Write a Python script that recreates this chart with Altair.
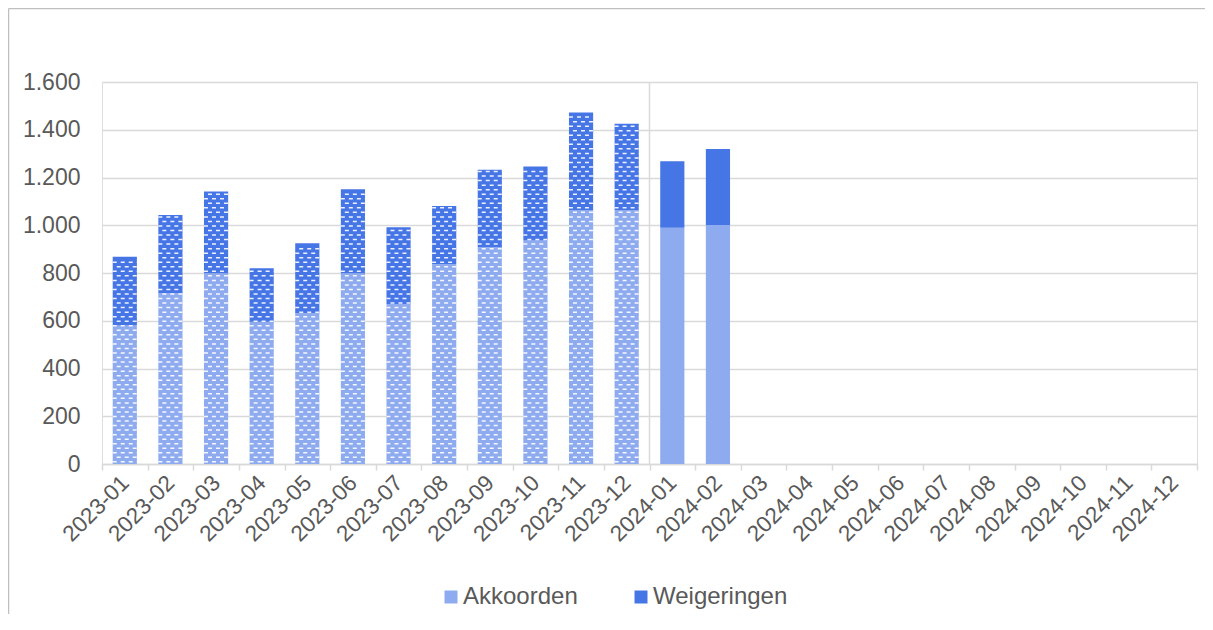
import altair as alt
import pandas as pd

# ---- data ----
months = [
    "2023-01", "2023-02", "2023-03", "2023-04", "2023-05", "2023-06",
    "2023-07", "2023-08", "2023-09", "2023-10", "2023-11", "2023-12",
    "2024-01", "2024-02", "2024-03", "2024-04", "2024-05", "2024-06",
    "2024-07", "2024-08", "2024-09", "2024-10", "2024-11", "2024-12",
]
data_months = months[:14]
akkoorden = [580, 715, 799, 596, 631, 799, 669, 837, 908, 936, 1064, 1064, 990, 1001]
weigeringen = [288, 328, 342, 224, 294, 352, 323, 244, 324, 310, 408, 361, 278, 318]
hatched_months = months[:12]          # 2023 bars are drawn with a dashed texture
series = ["Akkoorden", "Weigeringen"]
colors = ["#8FABEF", "#4675E6"]
y_ticks = [0, 200, 400, 600, 800, 1000, 1200, 1400, 1600]
separator_month = "2024-01"

# ---- tables built from the arrays ----
rows = []
for m, a, w in zip(data_months, akkoorden, weigeringen):
    rows.append({"maand": m, "reeks": "Akkoorden", "waarde": a, "volgorde": 0})
    rows.append({"maand": m, "reeks": "Weigeringen", "waarde": w, "volgorde": 1})
df = pd.DataFrame(rows)

HATCH_START = 9
HATCH_STEP = 19
hatch_rows = []
for m, a, w in zip(data_months, akkoorden, weigeringen):
    if m not in hatched_months:
        continue
    total = a + w
    y, k = HATCH_START, 0
    while y < total - 5:
        hatch_rows.append({"maand": m, "y": y, "rij": k % 2})
        y += HATCH_STEP
        k += 1
hatch = pd.DataFrame(hatch_rows)

FONT = "Liberation Sans"
TXT = "#595959"
GRID = "#d9d9d9"

xscale = alt.Scale(domain=months, paddingInner=0, paddingOuter=0)
yscale = alt.Scale(domain=[0, 1600], nice=False)

bars = alt.Chart(df).mark_bar(width=alt.RelativeBandSize(0.53)).encode(
    x=alt.X(
        "maand:N", scale=xscale, sort=months, title=None,
        axis=alt.Axis(
            labelAngle=-45, labelAlign="right", labelBaseline="middle",
            labelFontSize=22.5, labelColor=TXT, labelFont=FONT, labelPadding=9,
            domain=True, domainColor=GRID, domainWidth=1.5,
            ticks=True, tickBand="extent", tickColor=GRID, tickSize=6, tickWidth=1.5,
            grid=False,
        ),
    ),
    y=alt.Y(
        "waarde:Q", stack="zero", scale=yscale, title=None,
        axis=alt.Axis(
            values=y_ticks, domain=False, ticks=False, grid=True,
            gridColor=GRID, gridWidth=1.3,
            labelFontSize=23, labelColor=TXT, labelFont=FONT, labelPadding=22,
            labelExpr="replace(format(datum.value, ','), ',', '.')",
        ),
    ),
    color=alt.Color(
        "reeks:N", scale=alt.Scale(domain=series, range=colors), title=None,
        legend=alt.Legend(
            orient="none", direction="horizontal", legendX=337, legendY=503,
            symbolType="square", symbolSize=169, symbolStrokeWidth=0,
            labelFontSize=24, labelColor=TXT, labelFont=FONT,
            columnPadding=51, symbolOffset=0, labelOffset=0,
        ),
    ),
    order=alt.Order("volgorde:Q"),
)

hatch_even = alt.Chart(hatch).transform_filter("datum.rij == 0").mark_rule(
    color="white", strokeWidth=1.5, strokeDash=[4, 4], strokeDashOffset=0, opacity=0.9
).encode(
    x=alt.X("maand:N", scale=xscale, bandPosition=0.235),
    x2=alt.X2("maand", bandPosition=0.765),
    y=alt.Y("y:Q", scale=yscale),
)
hatch_odd = alt.Chart(hatch).transform_filter("datum.rij == 1").mark_rule(
    color="white", strokeWidth=1.5, strokeDash=[4, 4], strokeDashOffset=4, opacity=0.9
).encode(
    x=alt.X("maand:N", scale=xscale, bandPosition=0.235),
    x2=alt.X2("maand", bandPosition=0.765),
    y=alt.Y("y:Q", scale=yscale),
)

separator = alt.Chart(pd.DataFrame({"maand": [separator_month]})).mark_rule(
    color=GRID, strokeWidth=1.5
).encode(
    x=alt.X("maand:N", scale=xscale, bandPosition=0),
    y=alt.value(0),
    y2=alt.value(382),
)

frame_left = alt.Chart(pd.DataFrame({"a": [0]})).mark_rule(
    color="#bfbfbf", strokeWidth=1.5
).encode(x=alt.value(-93.5), y=alt.value(-73.5), y2=alt.value(540))
frame_top = alt.Chart(pd.DataFrame({"a": [0]})).mark_rule(
    color="#bfbfbf", strokeWidth=1.5
).encode(x=alt.value(-93.5), x2=alt.value(1110), y=alt.value(-73.5))

chart = alt.layer(
    separator, bars, hatch_even, hatch_odd, frame_left, frame_top
).properties(
    width=1095, height=382,
    autosize=alt.AutoSizeParams(type="none"),
    padding={"left": 94, "top": 74, "right": 8, "bottom": 150},
).configure_view(stroke=None).configure(background="white")

chart.save("out.html", embed_options={"renderer": "svg", "actions": False})
